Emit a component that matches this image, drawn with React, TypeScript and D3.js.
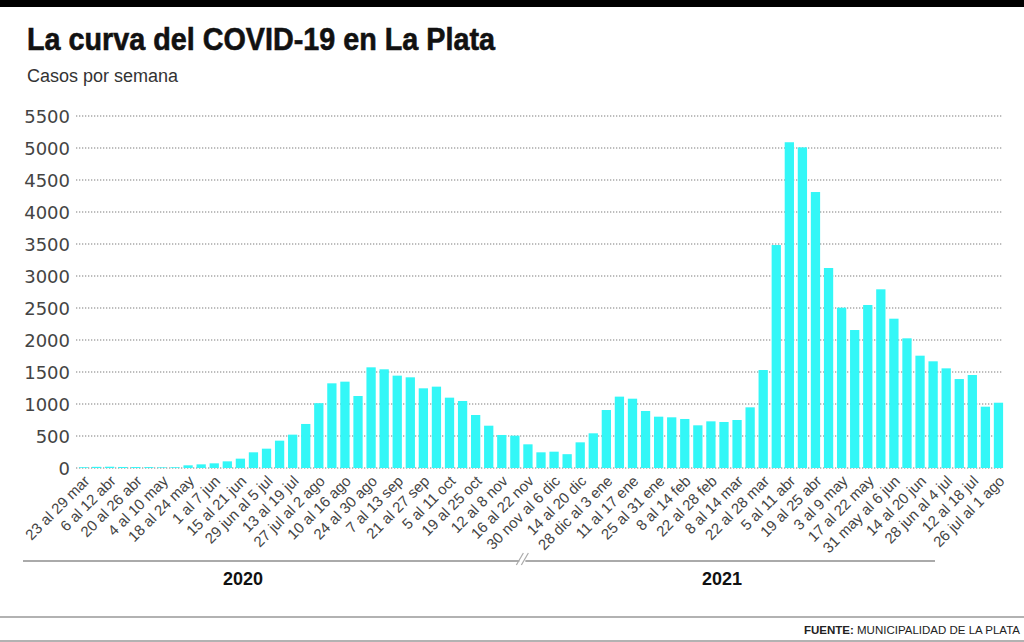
// App.tsx

import React, { useRef, useEffect } from "react";
import * as d3 from "d3";

// weekly cases, 23 mar 2020 .. 26 jul 2021
const weeks: string[] = [
  "23 al 29 mar", "30 mar al 5 abr", "6 al 12 abr", "13 al 19 abr", "20 al 26 abr",
  "27 abr al 3 may", "4 al 10 may", "11 al 17 may", "18 al 24 may", "25 al 31 may",
  "1 al 7 jun", "8 al 14 jun", "15 al 21 jun", "22 al 28 jun", "29 jun al 5 jul",
  "6 al 12 jul", "13 al 19 jul", "20 al 26 jul", "27 jul al 2 ago", "3 al 9 ago",
  "10 al 16 ago", "17 al 23 ago", "24 al 30 ago", "31 ago al 6 sep", "7 al 13 sep",
  "14 al 20 sep", "21 al 27 sep", "28 sep al 4 oct", "5 al 11 oct", "12 al 18 oct",
  "19 al 25 oct", "26 oct al 1 nov", "12 al 8 nov", "9 al 15 nov", "16 al 22 nov",
  "23 al 29 nov", "30 nov al 6 dic", "7 al 13 dic", "14 al 20 dic", "21 al 27 dic",
  "28 dic al 3 ene", "4 al 10 ene", "11 al 17 ene", "18 al 24 ene", "25 al 31 ene",
  "1 al 7 feb", "8 al 14 feb", "15 al 21 feb", "22 al 28 feb", "1 al 7 mar",
  "8 al 14 mar", "15 al 21 mar", "22 al 28 mar", "29 mar al 4 abr", "5 al 11 abr",
  "12 al 18 abr", "19 al 25 abr", "26 abr al 2 may", "3 al 9 may", "10 al 16 may",
  "17 al 22 may", "24 al 30 may", "31 may al 6 jun", "7 al 13 jun", "14 al 20 jun",
  "21 al 27 jun", "28 jun al 4 jul", "5 al 11 jul", "12 al 18 jul", "19 al 25 jul",
  "26 jul al 1 ago",
];

const cases: number[] = [
  12, 18, 20, 16, 15, 14, 10, 12, 42, 57,
  73, 104, 146, 245, 302, 427, 521, 688, 1013, 1323,
  1349, 1125, 1573, 1542, 1443, 1417, 1245, 1271, 1099, 1047,
  828, 661, 516, 505, 370, 245, 255, 216, 401, 542,
  906, 1115, 1083, 891, 802, 792, 766, 667, 729, 719,
  750, 948, 1531, 3484, 5090, 5010, 4312, 3125, 2505, 2156,
  2547, 2792, 2333, 2026, 1755, 1667, 1557, 1390, 1453, 958,
  1020,
];

const yTicks: number[] = [0, 500, 1000, 1500, 2000, 2500, 3000, 3500, 4000, 4500, 5000, 5500];
const years: string[] = ["2020", "2021"];

const App: React.FC = () => {
  const ref = useRef<SVGSVGElement | null>(null);

  useEffect(() => {
    const svg = d3.select(ref.current);
    svg.selectAll("*").remove();

    const width = 1024;
    const height = 642;
    svg.attr("width", width).attr("height", height);

    const x = d3
      .scaleBand<number>()
      .domain(d3.range(cases.length))
      .range([77, 1005])
      .paddingInner(0.29)
      .paddingOuter(0.145);

    const y = d3.scaleLinear().domain([0, 5500]).range([468, 116]);

    // top black band
    svg.append("rect").attr("x", 0).attr("y", 0).attr("width", width).attr("height", 7).attr("fill", "#000");

    svg
      .append("text")
      .attr("x", 27)
      .attr("y", 50)
      .attr("font-family", "Liberation Sans, Arial, sans-serif")
      .attr("font-weight", "bold")
      .attr("font-size", 31)
      .attr("textLength", 468)
      .attr("lengthAdjust", "spacingAndGlyphs")
      .attr("stroke", "#111")
      .attr("stroke-width", 0.6)
      .attr("fill", "#111")
      .text("La curva del COVID-19 en La Plata");

    svg
      .append("text")
      .attr("x", 27)
      .attr("y", 82)
      .attr("font-family", "Liberation Sans, Arial, sans-serif")
      .attr("font-size", 18)
      .attr("fill", "#333")
      .text("Casos por semana");

    // gridlines
    const grid = svg.append("g");
    grid
      .selectAll("line")
      .data(yTicks)
      .enter()
      .append("line")
      .attr("x1", 76)
      .attr("x2", 1003)
      .attr("y1", (d) => y(d))
      .attr("y2", (d) => y(d))
      .attr("stroke", "#a8a8a8")
      .attr("stroke-width", 1.3)
      .attr("stroke-dasharray", "1.3 1.7");

    // y axis labels
    const yAxis = d3.axisLeft(y).tickValues(yTicks).tickSize(0).tickPadding(0).tickFormat(d3.format("d"));
    const ya = svg.append("g").attr("transform", "translate(70,0)").call(yAxis);
    ya.select(".domain").remove();
    ya.selectAll("text")
      .attr("font-family", "DejaVu Sans, sans-serif")
      .attr("font-size", 18)
      .attr("fill", "#444")
      .attr("dy", "0.36em");

    // bars
    svg
      .append("g")
      .selectAll("rect")
      .data(cases)
      .enter()
      .append("rect")
      .attr("x", (_, i) => x(i) as number)
      .attr("y", (d) => y(d))
      .attr("width", x.bandwidth())
      .attr("height", (d) => y(0) - y(d))
      .attr("fill", "#33f7f7");

    // x labels every other week
    const xAxis = d3
      .axisBottom(x)
      .tickValues(d3.range(0, cases.length, 2))
      .tickSize(0)
      .tickPadding(0)
      .tickFormat((i) => weeks[i as number]);
    const xa = svg.append("g").attr("transform", "translate(0,468)").call(xAxis);
    xa.select(".domain").remove();
    xa.selectAll("text")
      .attr("font-family", "Liberation Sans, Arial, sans-serif")
      .attr("font-size", 15)
      .attr("fill", "#444")
      .attr("text-anchor", "end")
      .attr("dy", null)
      .attr("y", null)
      .attr("transform", "translate(7,14) rotate(-45)");

    // year line with break
    const lineY = 561;
    const brk = (x(40) as number) + x.bandwidth() / 2 - 84;
    const yearG = svg.append("g").attr("stroke", "#aaa").attr("stroke-width", 2);
    yearG.append("line").attr("x1", 23).attr("x2", brk - 3).attr("y1", lineY).attr("y2", lineY);
    yearG.append("line").attr("x1", brk + 3).attr("x2", 935).attr("y1", lineY).attr("y2", lineY);
    yearG.append("line").attr("x1", brk - 6).attr("x2", brk + 1).attr("y1", lineY + 4).attr("y2", lineY - 8).attr("stroke-width", 1.2);
    yearG.append("line").attr("x1", brk - 1).attr("x2", brk + 6).attr("y1", lineY + 4).attr("y2", lineY - 8).attr("stroke-width", 1.2);

    const yearX = [243, 722];
    svg
      .append("g")
      .selectAll("text")
      .data(years)
      .enter()
      .append("text")
      .attr("x", (_, i) => yearX[i])
      .attr("y", 585)
      .attr("text-anchor", "middle")
      .attr("font-family", "Liberation Sans, Arial, sans-serif")
      .attr("font-weight", "bold")
      .attr("font-size", 18)
      .attr("fill", "#111")
      .text((d) => d);

    // footer
    svg.append("line").attr("x1", 0).attr("x2", width).attr("y1", 617).attr("y2", 617).attr("stroke", "#999").attr("stroke-width", 1.5);
    svg.append("line").attr("x1", 0).attr("x2", width).attr("y1", 641).attr("y2", 641).attr("stroke", "#999").attr("stroke-width", 1.5);

    const src = svg
      .append("text")
      .attr("x", 1020)
      .attr("y", 634)
      .attr("text-anchor", "end")
      .attr("font-family", "Liberation Sans Narrow, Liberation Sans, Arial, sans-serif")
      .attr("font-size", 11.5)
      .attr("fill", "#222");
    src.append("tspan").attr("font-weight", "bold").text("FUENTE:");
    src.append("tspan").text(" MUNICIPALIDAD DE LA PLATA");
  }, []);

  return (
    <svg
      ref={ref}
      style={{ position: "absolute", left: 0, top: 0, background: "#fff" }}
    />
  );
};

export default App;
